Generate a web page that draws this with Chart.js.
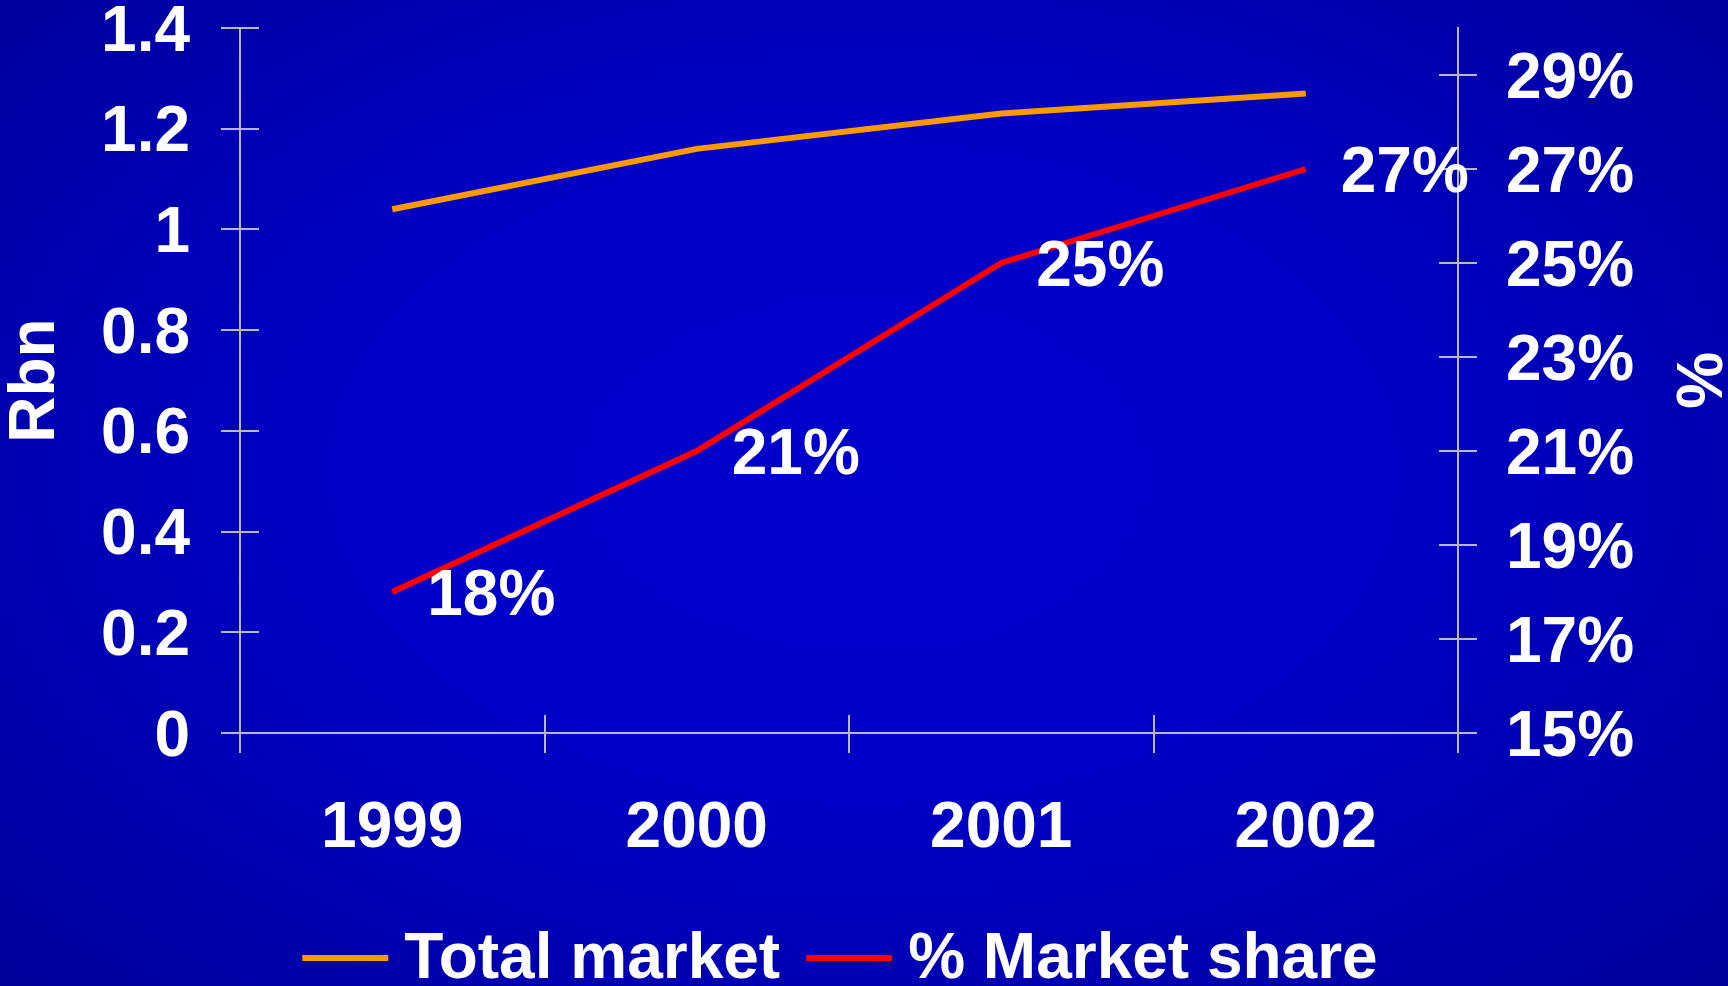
<!DOCTYPE html>
<html>
<head>
<meta charset="utf-8">
<script src="https://cdn.jsdelivr.net/npm/chart.js@4"></script>
<style>
  html, body { margin: 0; padding: 0; width: 1728px; height: 986px; overflow: hidden; }
  body { background: radial-gradient(ellipse 72% 78% at 50% 48%, #0000cc 0%, #0000c8 40%, #0000a8 80%, #000098 100%); }
  canvas { display: block; }
</style>
</head>
<body>
<canvas id="c" width="1728" height="986"></canvas>
<script>
// Categories and series
const years = ['1999', '2000', '2001', '2002'];
const totalMarket = [1.04, 1.16, 1.23, 1.27];   // Rbn
const marketShare = [18, 21, 25, 27];           // %

// Axis tick values
const rbnTicks = [0, 0.2, 0.4, 0.6, 0.8, 1, 1.2, 1.4];
const shareTicks = [15, 17, 19, 21, 23, 25, 27, 29];

const AXIS = '#b8b8c4';
const WHITE = '#ffffff';
const FAMILY = "'Liberation Sans', Arial, Helvetica, sans-serif";
const bigFont = { family: FAMILY, weight: 'bold', size: 64, lineHeight: 1 };

// Short tick stubs on the inner side of each axis, so ticks cross the axis lines
const crossTicks = {
  id: 'crossTicks',
  beforeDatasetsDraw(chart) {
    const { ctx } = chart;
    const x = chart.scales.x, y = chart.scales.y, y1 = chart.scales.y1;
    ctx.save();
    ctx.strokeStyle = AXIS;
    ctx.lineWidth = 2;
    ctx.beginPath();
    y.ticks.forEach((t, i) => {
      const py = Math.round(y.getPixelForTick(i));
      ctx.moveTo(y.right, py); ctx.lineTo(y.right + 19, py);
    });
    y1.ticks.forEach((t, i) => {
      const py = Math.round(y1.getPixelForTick(i));
      ctx.moveTo(y1.left, py); ctx.lineTo(y1.left - 19, py);
    });
    const n = years.length;
    for (let k = 0; k <= n; k++) {
      const px = Math.round(x.getPixelForDecimal(k / n));
      ctx.moveTo(px, x.top); ctx.lineTo(px, x.top - 18);
    }
    ctx.stroke();
    ctx.restore();
  }
};

// Percentage labels beside the market share points
const shareLabels = {
  id: 'shareLabels',
  afterDatasetsDraw(chart) {
    const { ctx } = chart;
    const meta = chart.getDatasetMeta(1);
    ctx.save();
    ctx.fillStyle = WHITE;
    ctx.font = `bold 64px ${FAMILY}`;
    ctx.textAlign = 'left';
    ctx.textBaseline = 'middle';
    meta.data.forEach((pt, i) => {
      ctx.fillText(marketShare[i] + '%', pt.x + 35, pt.y + 5);
    });
    ctx.restore();
  }
};

// Legend row under the axis labels
const lineLegend = {
  id: 'lineLegend',
  afterDraw(chart) {
    const { ctx } = chart;
    const sets = chart.data.datasets;
    const lineLen = 86, gapAfterLine = 16, gapBetween = 26;
    ctx.save();
    ctx.font = `bold 64px ${FAMILY}`;
    ctx.textBaseline = 'middle';
    ctx.textAlign = 'left';
    const widths = sets.map(d => ctx.measureText(d.label).width);
    const total = widths.reduce((a, w) => a + lineLen + gapAfterLine + w, 0) + gapBetween * (sets.length - 1);
    let x = (chart.width - total) / 2 - 24;
    const cy = chart.height - 28;
    sets.forEach((d, i) => {
      ctx.fillStyle = d.borderColor;
      ctx.fillRect(x, cy - 3, lineLen, 6);
      x += lineLen + gapAfterLine;
      ctx.fillStyle = WHITE;
      ctx.fillText(d.label, x, cy + 2);
      x += widths[i] + gapBetween;
    });
    ctx.restore();
  }
};

function noPad(scale) {
  scale.paddingTop = 0; scale.paddingBottom = 0;
  scale.paddingLeft = 0; scale.paddingRight = 0;
}

new Chart(document.getElementById('c'), {
  type: 'line',
  data: {
    labels: years,
    datasets: [
      {
        label: 'Total market',
        data: totalMarket,
        yAxisID: 'y',
        borderColor: '#ff9900',
        backgroundColor: '#ff9900',
        borderWidth: 6,
        pointRadius: 0,
        tension: 0,
        borderCapStyle: 'butt'
      },
      {
        label: '% Market share',
        data: marketShare,
        yAxisID: 'y1',
        borderColor: '#ff0000',
        backgroundColor: '#ff0000',
        borderWidth: 6,
        pointRadius: 0,
        tension: 0,
        borderCapStyle: 'butt'
      }
    ]
  },
  options: {
    responsive: false,
    animation: false,
    devicePixelRatio: 1,
    layout: { padding: { top: 28, left: 0, right: 0, bottom: 0 } },
    plugins: {
      legend: { display: false },
      tooltip: { enabled: false }
    },
    scales: {
      x: {
        type: 'category',
        offset: true,
        grid: { display: true, drawOnChartArea: false, drawTicks: true, tickLength: 20, offset: true, color: AXIS, lineWidth: 2 },
        border: { display: true, color: AXIS, width: 2 },
        ticks: { color: WHITE, font: bigFont, padding: 44, maxRotation: 0, autoSkip: false },
        afterFit(scale) { scale.height = 253; noPad(scale); }
      },
      y: {
        position: 'left',
        min: 0,
        max: 1.4,
        grid: { display: true, drawOnChartArea: false, drawTicks: true, tickLength: 19, color: AXIS, lineWidth: 2 },
        border: { display: true, color: AXIS, width: 2 },
        ticks: { color: WHITE, font: bigFont, padding: 31, labelOffset: 5, autoSkip: false, callback: v => String(v) },
        afterBuildTicks(scale) { scale.ticks = rbnTicks.map(v => ({ value: v })); },
        title: { display: true, text: 'Rbn', color: WHITE, font: bigFont, padding: { top: 4, bottom: 0 } },
        afterFit(scale) { scale.width = 240; noPad(scale); }
      },
      y1: {
        position: 'right',
        min: 15,
        max: 30,
        grid: { display: true, drawOnChartArea: false, drawTicks: true, tickLength: 19, color: AXIS, lineWidth: 2 },
        border: { display: true, color: AXIS, width: 2 },
        ticks: { color: WHITE, font: bigFont, padding: 29, labelOffset: 5, autoSkip: false, callback: v => v + '%' },
        afterBuildTicks(scale) { scale.ticks = shareTicks.map(v => ({ value: v })); },
        title: { display: true, text: '%', color: WHITE, font: bigFont, padding: { top: 1, bottom: 0 } },
        afterFit(scale) { scale.width = 270; noPad(scale); }
      }
    }
  },
  plugins: [crossTicks, shareLabels, lineLegend]
});
</script>
</body>
</html>
